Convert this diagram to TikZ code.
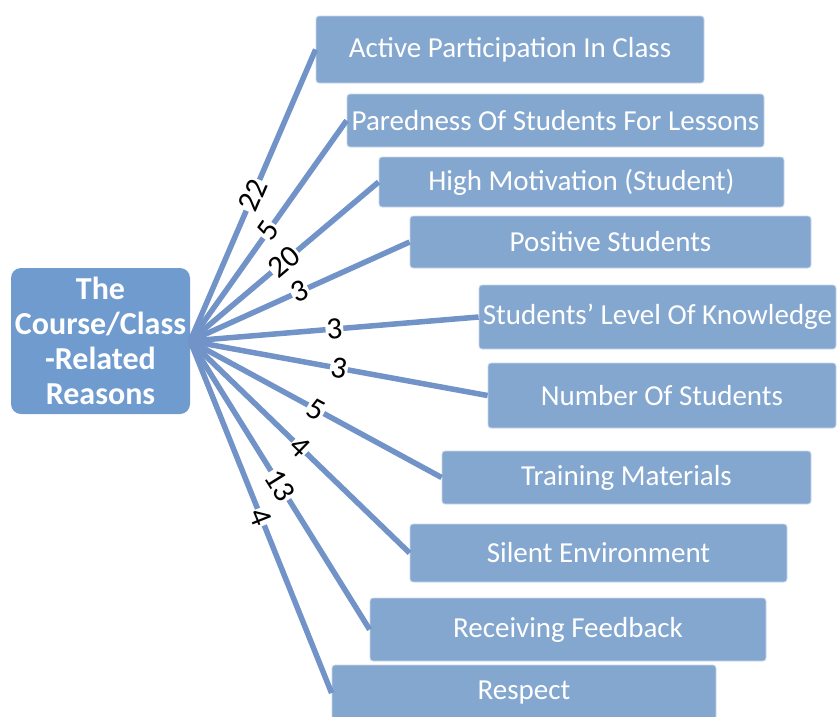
\documentclass[tikz,border=0pt]{standalone}
\usepackage{fontspec}
\setmainfont{Carlito}
\definecolor{boxblue}{RGB}{132,167,208}
\definecolor{hubblue}{RGB}{112,155,207}
\definecolor{lineblue}{RGB}{114,147,200}
\tikzset{
  leaf/.style={rectangle, rounded corners=3pt, fill=boxblue, draw=white!55!boxblue, line width=0.8pt,
    text=white, inner sep=0pt, font=\fontsize{29}{32}\selectfont},
  hub/.style={rectangle, rounded corners=10pt, fill=hubblue, text=white, inner sep=0pt,
    align=center, font=\fontsize{32}{35}\selectfont\bfseries},
  spoke/.style={draw=lineblue, line width=5.5pt},
  count/.style={midway, sloped, fill=white, inner sep=1pt, text=black, font=\fontsize{31}{32}\selectfont}
}
\begin{document}
\begin{tikzpicture}[x=1pt,y=-1pt]
\useasboundingbox (0,0) rectangle (837,716);
% nodes
\node[hub, minimum width=179pt, minimum height=146pt] (c) at (100.5,341) {The\\Course/Class\\-Related\\Reasons};
\node[leaf, minimum width=388pt, minimum height=67pt] (b1) at (510,49.5) {Active Participation In Class};
\node[leaf, minimum width=417pt, minimum height=53pt] (b2) at (555.5,120.5) {Paredness Of Students For Lessons};
\node[leaf, minimum width=405pt, minimum height=50pt] (b3) at (581.5,182) {High Motivation (Student)};
\node[leaf, minimum width=401pt, minimum height=52pt] (b4) at (610.5,242) {Positive Students};
\node[leaf, minimum width=357pt, minimum height=64pt] (b5) at (657.5,317) {Students’ Level Of Knowledge};
\node[leaf, minimum width=348pt, minimum height=65pt] (b6) at (662,395.5) {Number Of Students};
\node[leaf, minimum width=369pt, minimum height=53pt] (b7) at (626.5,477.5) {Training Materials};
\node[leaf, minimum width=377pt, minimum height=58pt] (b8) at (598.5,553) {Silent Environment};
\node[leaf, minimum width=396pt, minimum height=63pt] (b9) at (568,629.5) {Receiving Feedback};
\node[leaf, minimum width=384pt, minimum height=56pt] (b10) at (524,693) {Respect};
% spokes
\draw[spoke] (c.east) -- (b1.west) node[count] {22};
\draw[spoke] (c.east) -- (b2.west) node[count] {5};
\draw[spoke] (c.east) -- (b3.west) node[count] {20};
\draw[spoke] (c.east) -- (b4.west) node[count] {3};
\draw[spoke] (c.east) -- (b5.west) node[count] {3};
\draw[spoke] (c.east) -- (b6.west) node[count] {3};
\draw[spoke] (c.east) -- (b7.west) node[count] {5};
\draw[spoke] (c.east) -- (b8.west) node[count] {4};
\draw[spoke] (c.east) -- (b9.west) node[count] {13};
\draw[spoke] (c.east) -- (b10.west) node[count] {4};
\end{tikzpicture}
\end{document}
